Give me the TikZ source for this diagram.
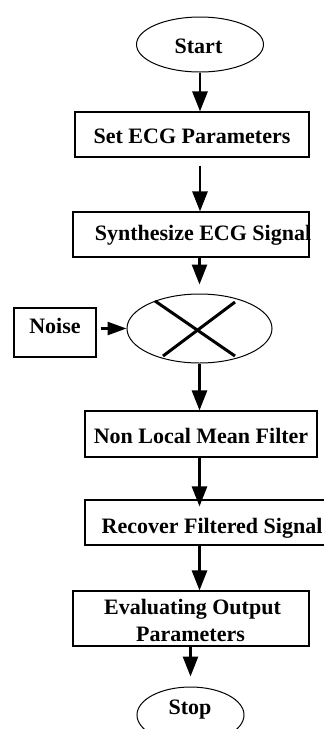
\documentclass[tikz,border=0pt]{standalone}
\usepackage{fontspec}
\setmainfont{Liberation Serif}
\usetikzlibrary{arrows.meta,shapes.geometric,calc}
\begin{document}
\begin{tikzpicture}[x=1pt,y=-1pt,
  txt/.style={font=\fontsize{22}{27}\selectfont\bfseries, inner sep=0pt},
  boxshape/.style={draw, line width=1.1pt, inner sep=0pt, rectangle},
  ellshape/.style={draw, line width=1pt, inner sep=0pt, ellipse},
  flow/.style={line width=2.6pt, -{Triangle[length=20pt,width=15pt]}},
  sideflow/.style={line width=2.6pt, -{Triangle[length=19pt,width=13pt]}},
  cross/.style={line width=3pt}
]
\useasboundingbox (0,0) rectangle (324,729);
\clip (0,0) rectangle (324,729);
\fill[white] (0,0) rectangle (324,729);

\node[ellshape, minimum width=127pt, minimum height=55pt] (start) at (200,44.5) {};
\node[txt, anchor=base] (starttxt) at (198.5,53) {Start};

\node[boxshape, minimum width=234pt, minimum height=45pt] (set) at (192,134.5) {};
\node[txt, anchor=base] (settxt) at (192,143) {Set ECG Parameters};

\node[boxshape, minimum width=236pt, minimum height=45pt] (syn) at (191,234.5) {};
\node[txt, anchor=base] (syntxt) at (203,240) {Synthesize ECG Signal};

\node[ellshape, minimum width=145pt, minimum height=69pt] (mix) at (199.5,328.5) {};
\draw[cross] ($(mix.center)+(-44.5,-27.5)$) -- ($(mix.center)+(35.5,27.5)$);
\draw[cross] ($(mix.center)+(35.5,-26.5)$) -- ($(mix.center)+(-36.5,27.5)$);

\node[boxshape, minimum width=82pt, minimum height=49pt] (noise) at (55,332.5) {};
\node[txt, anchor=base] (noisetxt) at (55,333) {Noise};

\node[boxshape, minimum width=232pt, minimum height=46pt] (nlm) at (201,434) {};
\node[txt, anchor=base] (nlmtxt) at (201,443) {Non Local Mean Filter};

\node[boxshape, minimum width=245pt, minimum height=45pt] (rec) at (207.5,522.5) {};
\node[txt, anchor=base] (rectxt) at (212,533) {Recover Filtered Signal};

\node[boxshape, minimum width=236pt, minimum height=55pt] (eval) at (191,618.5) {};
\node[txt, anchor=base] (evaltxtA) at (192.5,614) {Evaluating Output};
\node[txt, anchor=base] (evaltxtB) at (190.5,641) {Parameters};

\node[ellshape, minimum width=107pt, minimum height=56pt] (stop) at (190.5,715) {};
\node[txt, anchor=base] (stoptxt) at (190,714) {Stop};

\draw[flow] (start.south) -- (start.south |- set.north);
\draw[flow] ($(start.south |- set.south)+(0,8)$) -- (start.south |- syn.north);
\draw[flow] (mix.north |- syn.south) -- ($(mix.north)+(0,-9)$);
\draw[sideflow] ($(noise.east |- mix.west)+(4,0)$) -- (mix.west);
\draw[flow] (mix.south) -- (mix.south |- nlm.north);
\draw[flow] (mix.south |- nlm.south) -- ($(mix.south |- rec.north)+(0,7)$);
\draw[flow] (mix.south |- rec.south) -- (mix.south |- eval.north);
\draw[flow] (stop.north |- eval.south) -- ($(stop.north)+(0,-10)$);
\end{tikzpicture}
\end{document}
